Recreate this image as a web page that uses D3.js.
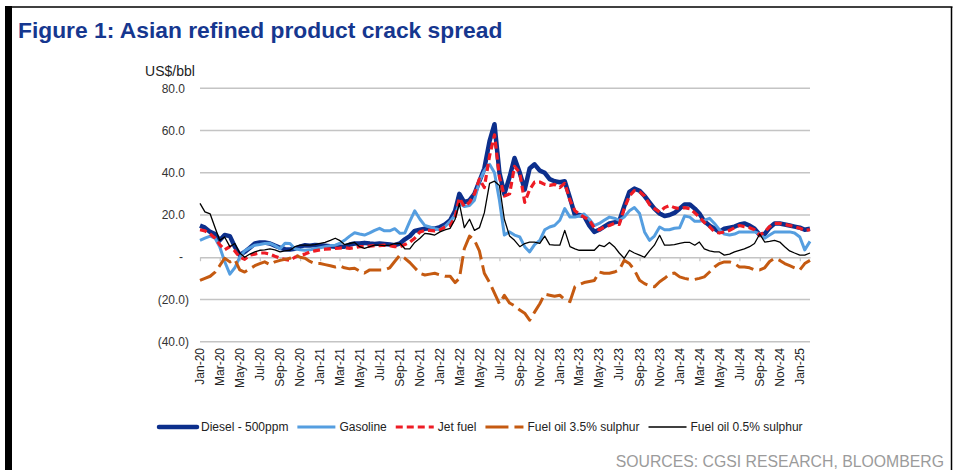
<!DOCTYPE html>
<html>
<head>
<meta charset="utf-8">
<script src="https://cdn.jsdelivr.net/npm/d3@7"></script>
<style>
  body { margin: 0; background: #fff; }
  svg { display: block; font-family: "Liberation Sans", Arial, sans-serif; }
</style>
</head>
<body>
<div id="chart"></div>
<script>
// Semi-monthly readings, 1st and 16th of each month, Jan-20 to Feb-25 (US$/bbl)
const diesel = [
  15,14,12,11,8,10.5,10,5,1,2.5,
  4.5,6.5,7,7,6.5,5.5,4.5,3.8,3.7,4,
  5,5.7,5.5,5.8,5.7,5.5,5.2,5,5,5,
  6,6.5,6.5,6.8,6.5,6.3,6.5,6.3,6,5.7,
  6.5,8.5,10,12.5,13,13.5,13.7,13.5,14.3,15.5,
  17.5,22,30,26,27,30,36,42,55,63,
  40,30,38,47,40,32,42,44,41,40,
  37,36,35.5,36,28,20,20,19.5,15,12,
  13,14.5,16,16.5,17,24,31,32.5,31.5,29,
  26,23,20.7,19.5,20,21,23,25,25,23,
  20.7,17,15,13.5,12,13.5,14,14.5,15.5,16,
  15,13.5,10.5,11,14,16,16,15.5,15,14.5,
  14,13,13.5
];
const gasoline = [
  8,9,10,9,5,-2,-8,-5,0,3,
  4.5,5.7,6,6.5,6.6,5.5,4,6.6,6.5,4,
  3.5,3.3,3.5,4,4.5,5,5.5,5.7,6.5,8,
  10,11.6,11,10.5,11.5,12.7,13.7,12.5,12.5,13.5,
  11.3,11.5,17,22,18,15,14.3,13.5,13,14.5,
  17,20,25.5,24,24.5,27,36,41,44,40,
  27,10.5,12,10.5,9.6,5,2.5,6,8,13,
  14.3,15,17.5,23,19,19,19.5,20.5,18,15,
  16,17.5,19,18.5,17.5,19,22,23.5,20.7,12,
  8,10,14.3,13,13,13.7,14,19.5,19,17,
  17,17.5,18.4,16,13,11,10.5,11,12,12,
  12,12,11,9,10.5,12,12,12,12,11.5,
  9.6,3.5,7.5
];
const jetFuel = [
  13,12.5,11,9,6,3.5,5,3,0,-1,
  1,1.5,2,2,1.5,0.5,-0.5,-1,-1.5,0,
  1,1.5,2.5,3,3.5,3.8,4,4.2,4.3,4.5,
  4.2,4.5,5,5,5.3,5.5,5.5,5.7,5.5,5,
  5,6,7.2,9,12,12.7,12.7,12.5,13,14.3,
  15,19,28,24,26,30,37,33,48,58,
  38,29,30,43,40,26,32,35.6,35.6,34.5,
  34,34.5,33,35,27,22,20.5,19,17.5,14,
  13,14.3,15,16,15.5,23,29,31.5,31,29,
  25,23,21.4,23.5,24.5,23.5,23,23.5,23,21,
  19,16.5,14.5,12,11.5,12,12.7,14,15,14.5,
  14,13,10.5,12,14.5,16,16,15.5,15,14.5,
  13.7,12.7,13
];
const fuelOil35 = [
  -11,-10,-9,-7,-4,-0.5,-2.2,-1,-6,-7,
  -5.5,-4,-3,-2.2,-3.5,-2.2,-1.5,-1,-0.5,1,
  0,-0.5,-2,-3,-3,-3.5,-4,-4.6,-4,-5,
  -5.5,-5.2,-6.5,-7.5,-6,-6,-6,-6,-5,-2,
  1,-0.5,-2.5,-5,-7.6,-8.4,-8,-7.6,-8.4,-9,
  -9,-12,-10,4,10,8,3,-7.6,-12,-17,
  -22,-18,-21.7,-23,-25,-26.5,-29.8,-26,-22,-17.5,
  -18,-18.5,-18,-20,-21,-14,-13,-12,-11.5,-11,
  -7,-7.6,-7.6,-7,-6,-1.5,-3,-6,-10.9,-12.5,
  -13.5,-14,-11.6,-10,-8,-7.5,-9.3,-10,-10.5,-10.5,
  -10,-9.3,-7,-4.6,-3,-2.2,-2.2,-3,-4.6,-4.6,
  -5,-6,-6,-5,-2,-0.5,-1.5,-3,-4,-5,
  -6,-3,-1.5
];
const fuelOil05 = [
  25.5,21.5,20.5,14,8,9.6,5,6.5,2,0,
  1.5,2.5,3.3,3.5,4,3.5,2.5,3,3.3,5,
  5.7,5.7,5.7,6,6.6,7,8,9,8,6,
  6.5,7,5,4.2,5,5.7,5.7,5.5,5.7,6.5,
  6.6,4,4,7,9,11.3,11,10.5,12,13,
  13.7,18,25.5,14,18,12.7,14,21,35,36,
  34,18,10,8,5,6.5,7.2,7.2,6.6,10,
  6,5.7,5.7,12.7,5,4,3.3,3.3,3.3,3.3,
  5.7,5,7,5,2,-0.5,3.3,2,1,0,
  3,5.7,10.4,5.7,5.7,6,6.6,7,7,5.7,
  7.2,4,3,2.5,2.5,1,1.5,2.5,3.3,4,
  5,6.5,11,7.2,7.5,8,7.2,5,3,2,
  1,1,2
];

const seriesNames = ["Diesel - 500ppm", "Gasoline", "Jet fuel", "Fuel oil 3.5% sulphur", "Fuel oil 0.5% sulphur"];
const yTicks = [80, 60, 40, 20, 0, -20, -40];

// dates: 1st and 16th of each month
const dates = diesel.map((v, i) => new Date(2020, Math.floor(i / 2), i % 2 ? 16 : 1));

const series = [
  { name: seriesNames[0], values: diesel,    color: "#0c2f8c", width: 4.5, dash: null },
  { name: seriesNames[1], values: gasoline,  color: "#559ee0", width: 3,   dash: null },
  { name: seriesNames[2], values: jetFuel,   color: "#ee1c25", width: 3.2, dash: "7,4" },
  { name: seriesNames[3], values: fuelOil35, color: "#c55a11", width: 3,   dash: "18,6" },
  { name: seriesNames[4], values: fuelOil05, color: "#000000", width: 1.3, dash: null }
];

const width = 956, height = 470;

const svg = d3.select("#chart")
  .append("svg")
  .attr("width", width)
  .attr("height", height);

// frame
svg.append("rect").attr("x", 5).attr("y", 6).attr("width", 7).attr("height", height - 6).attr("fill", "#000");
svg.append("line").attr("x1", 5).attr("x2", 952.5).attr("y1", 7).attr("y2", 7)
  .attr("stroke", "#000").attr("stroke-width", 1.5);
svg.append("line").attr("x1", 951.5).attr("x2", 951.5).attr("y1", 7).attr("y2", height)
  .attr("stroke", "#000").attr("stroke-width", 1.5);

// title
svg.append("text")
  .attr("x", 18).attr("y", 38)
  .attr("font-size", "22.8px").attr("font-weight", "bold")
  .attr("fill", "#16378f")
  .text("Figure 1: Asian refined product crack spread");

// scales
const x = d3.scaleTime()
  .domain([new Date(2020, 0, 1), new Date(2025, 1, 1)])
  .range([200, 810]);

const y = d3.scaleLinear()
  .domain([-40, 80])
  .range([341.7, 88.3]);

// unit label
svg.append("text")
  .attr("x", 170).attr("y", 76)
  .attr("text-anchor", "middle")
  .attr("font-size", "14px").attr("fill", "#222")
  .text("US$/bbl");

// gridlines (zero line handled by the axis)
svg.append("g")
  .selectAll("line")
  .data(yTicks.filter(d => d !== 0))
  .enter().append("line")
  .attr("x1", x.range()[0]).attr("x2", x.range()[1])
  .attr("y1", d => y(d)).attr("y2", d => y(d))
  .attr("stroke", "#c4c4c4").attr("stroke-width", 1.4);

// y labels, accounting style
const fmt = d3.format(".1f");
svg.append("g")
  .selectAll("text")
  .data(yTicks)
  .enter().append("text")
  .attr("x", d => d === 0 ? 181 : (d < 0 ? 189 : 185))
  .attr("y", d => y(d))
  .attr("dy", "0.35em")
  .attr("text-anchor", d => d === 0 ? "middle" : "end")
  .attr("font-size", "12px").attr("fill", "#333")
  .text(d => d === 0 ? "-" : (d < 0 ? `(${fmt(-d)})` : fmt(d)));

// x axis on zero line
const monthTicks = d3.timeMonth.range(new Date(2020, 0, 1), new Date(2025, 1, 2), 2);
const xAxis = svg.append("g")
  .attr("transform", `translate(0,${y(0)})`)
  .call(d3.axisBottom(x).tickValues(monthTicks).tickSize(4).tickSizeOuter(0).tickFormat(""));
xAxis.select(".domain").attr("stroke", "#c4c4c4").attr("stroke-width", 1.4);
xAxis.selectAll(".tick line").attr("stroke", "#c4c4c4").attr("stroke-width", 1.2);

// x labels below the chart
const monthFmt = d3.timeFormat("%b-%y");
svg.append("g")
  .selectAll("text")
  .data(monthTicks)
  .enter().append("text")
  .attr("transform", d => `translate(${x(d)},348) rotate(-90)`)
  .attr("dy", "0.35em")
  .attr("text-anchor", "end")
  .attr("font-size", "12px").attr("fill", "#222")
  .text(d => monthFmt(d));

// lines
const line = d3.line()
  .x((d, i) => x(dates[i]))
  .y(d => y(d));

svg.append("g")
  .selectAll("path")
  .data(series)
  .enter().append("path")
  .attr("d", d => line(d.values))
  .attr("fill", "none")
  .attr("stroke", d => d.color)
  .attr("stroke-width", d => d.width)
  .attr("stroke-dasharray", d => d.dash)
  .attr("stroke-linejoin", "round");

// legend
const legend = svg.append("g").attr("transform", "translate(159,427)");
let lx = 0;
series.forEach(s => {
  legend.append("line")
    .attr("x1", lx).attr("x2", lx + 38)
    .attr("y1", 0).attr("y2", 0)
    .attr("stroke", s.color)
    .attr("stroke-width", s.width)
    .attr("stroke-dasharray", s.dash === "18,6" ? "23,6" : s.dash)
    .attr("stroke-linecap", s.width > 4 ? "round" : "butt");
  const t = legend.append("text")
    .attr("x", lx + 42).attr("y", 0).attr("dy", "0.35em")
    .attr("font-size", "12px").attr("fill", "#222")
    .text(s.name);
  lx += 42 + t.node().getComputedTextLength() + 9;
});

// source
svg.append("text")
  .attr("x", 944).attr("y", 467)
  .attr("text-anchor", "end")
  .attr("font-size", "15.8px").attr("fill", "#9b9b9b")
  .text("SOURCES: CGSI RESEARCH, BLOOMBERG");
</script>
</body>
</html>
